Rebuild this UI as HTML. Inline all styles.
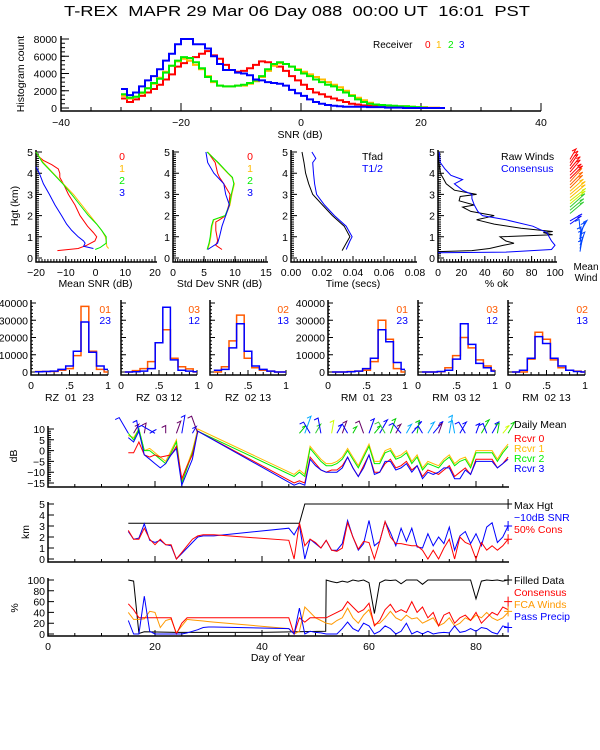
<!DOCTYPE html>
<html><head><meta charset="utf-8"><style>
html,body{margin:0;padding:0;background:#fff;}
svg{display:block;font-family:"Liberation Sans",sans-serif;}
</style></head><body>
<svg id="c" width="600" height="750" viewBox="0 0 600 750" xmlns="http://www.w3.org/2000/svg"></svg>
<script>
// ---------- DATA ----------
const snrBinStart = -30;
const histRcvr0 = [1100,700,1000,1400,1800,2200,2700,3300,3900,4800,5200,5500,5900,6300,6600,6100,5700,5000,4400,4200,4300,4600,5000,5400,5300,5000,4800,4300,3700,3200,2700,2200,1800,1600,1300,1100,900,700,500,400,300,250,200,200,200,200,150,100,100,50,0,0,0,0];
const histRcvr1 = [1400,1100,1300,1700,2300,2800,3500,4200,4900,5400,5700,5500,5000,4500,3700,3000,2600,2500,2500,2600,2600,2800,3100,3600,4300,4900,5200,5100,4800,4500,4200,3900,3600,3300,3000,2700,2400,2000,1500,1200,900,600,400,300,250,200,200,200,150,100,100,50,50,0];
const histRcvr2 = [1600,1200,1300,1800,2300,2900,3400,4100,4900,5500,5900,5800,5300,4600,3600,3100,2600,2500,2500,2600,2700,2900,3200,3700,4500,5100,5300,5100,4800,4400,4000,3700,3300,3000,2700,2500,2100,1800,1400,1000,700,500,400,350,300,250,200,200,150,100,50,0,0,0];
const histRcvr3 = [2200,1500,1800,2500,3200,3700,4500,5500,6300,7400,8000,8000,7400,7400,6900,6000,5100,4400,4400,4100,4000,3800,3300,3200,3000,2900,2800,2600,2100,1700,1400,1000,700,500,350,250,200,150,150,150,150,100,100,100,50,50,50,0,0,0,0,0,0,0];

const snrH0 = [0.35,0.45,0.6,0.8,1.0,1.2,1.5,2.0,2.5,3.0,3.5,3.8,4.0,4.2,4.4,4.6,4.8,5.0];
const snrR0 = [-12.8,-5.8,-3,-0.2,0.4,-0.7,-2.7,-5.2,-6.9,-9.1,-10.8,-12,-12,-12.5,-14.7,-17.5,-19.2,-20];
const snrH1 = [0.45,0.55,0.8,1.0,1.3,1.6,2.0,2.5,3.0,3.5,4.0,4.5,5.0];
const snrR1 = [4.4,3.8,3.6,3.3,2.1,0.4,-1.8,-4.6,-7.4,-10.8,-14.2,-17.5,-20];
const snrH2 = [0.4,0.5,0.7,1.0,1.3,1.6,2.0,2.5,3.0,3.5,4.0,4.5,5.0];
const snrR2 = [-0.1,1.6,3.6,3.6,2.1,0.4,-2.4,-5.2,-8,-11,-14.4,-17.8,-20];
const snrH3 = [0.45,0.55,0.7,0.8,1.0,1.3,1.6,2.0,2.5,3.0,3.5,4.0,4.3];
const snrR3 = [-0.7,-4,-3.5,-4,-5.8,-8,-9.7,-11.4,-13.6,-15.5,-17.5,-18.9,-20];

const sdH0 = [0.4,0.6,0.8,1.0,1.3,1.7,1.8,2.0,2.5,3.0,3.3,3.5,3.8,4.0,4.5,5.0];
const sdR0 = [7.9,6.9,7.2,7.1,6.9,6.9,7.5,8.5,9,9.2,8.6,8.2,7.5,7.2,6.8,5.6];
const sdH1 = [0.4,0.7,1.0,1.5,1.8,2.0,2.5,3.0,3.5,3.8,4.0,4.5,5.0];
const sdR1 = [5.6,5.9,6.1,6.3,6.6,8.5,9.2,9.5,9.9,9.5,8.8,7.2,5.6];
const sdR2 = [5.5,5.8,6.0,6.2,6.5,8.4,9.1,9.4,9.8,9.6,8.9,7.3,5.5];
const sdH3 = [0.4,0.7,1.0,1.5,2.0,2.5,3.0,3.5,4.0,4.5,5.0];
const sdR3 = [5.6,7.2,7.5,7.9,8.5,9.1,8.5,8.2,6.6,5.6,5.3];

const tH = [0.35,0.7,1.0,1.5,2.0,2.5,3.0,3.5,4.0,4.5,5.0];
const tFad = [0.033,0.0356,0.038,0.0343,0.0267,0.0203,0.014,0.0114,0.0094,0.0084,0.0071];
const tH2 = [0.4,0.8,1.0,1.5,2.0,2.5,3.0,3.5,4.0,4.5,4.7,5.0];
const tHalf = [0.0356,0.038,0.0394,0.0356,0.028,0.0216,0.0165,0.0152,0.0145,0.014,0.016,0.0135];

const okHraw = [0.3,0.35,0.45,0.6,0.7,0.8,1.0,1.1,1.2,1.25,1.4,1.6,1.8,1.9,2.0,2.1,2.2,2.4,2.5,2.7,2.9,3.0,3.2,3.5,3.8,4.0,4.4,5.0];
const okRaw = [0.7,29,44,56,65,58,53,98,90,98,71,48,33,41,48,38,28,21,31,18,19,33,14,7,4,2,1,0];
const okHcon = [0.25,0.28,0.4,0.6,0.8,1.0,1.2,1.5,1.8,2.0,2.2,2.5,2.8,3.0,3.2,3.5,3.7,3.9,4.2,4.5,5.0];
const okCon = [0,58,97,100,97,95,93,81,58,38,34,31,29,29,21,14,21,11,6,2,1];

const mwHgt = [0.3,0.45,0.6,0.75,0.9,1.05,1.2,1.35,1.6,1.75,2.1,2.25,2.4,2.55,2.7,2.85,3.0,3.15,3.3,3.45,3.6,3.75,3.9,4.05,4.2,4.35,4.5,4.65];
const mwDir = [80,75,70,80,85,70,60,95,35,30,40,40,42,40,38,40,40,42,45,45,48,45,45,50,50,55,55,60];
const mwSpd = [12,12,14,12,12,14,14,10,14,14,18,18,20,20,20,20,20,18,18,18,18,18,16,16,16,14,14,12];

const hBinCenters = [0.1,0.2,0.3,0.4,0.5,0.6,0.7,0.8,0.9,1.0];
const rz0123A = [300,300,300,1000,2000,9500,38000,12000,1500,0];
const rz0123B = [200,300,500,1500,3500,12000,29000,11500,3500,1500];
const rz0312A = [0,800,2000,6000,17000,24500,8000,3000,1800,0];
const rz0312B = [0,200,500,2000,17000,37500,7000,1000,500,200];
const rz0213A = [0,3000,18000,33000,8000,2500,1000,500,0,0];
const rz0213B = [1000,1500,14000,28000,12000,3500,1500,500,0,0];
const rm0123A = [0,0,300,500,1000,6000,30000,19000,2000,0];
const rm0123B = [0,0,200,500,2000,8000,24500,17500,5500,1500];
const rm0312A = [0,0,200,2500,9500,20000,14000,7000,3500,1000];
const rm0312B = [0,0,300,1000,7500,28000,16000,5000,2500,500];
const rm0213A = [0,0,7500,23000,19000,7000,2500,1000,500,0];
const rm0213B = [0,1000,8000,20500,16500,8000,3500,1000,300,0];

const dmDays = [15,16,17,18,19,20,21,22,23,24,25,26,27,28,46,47,48,49,50,51,52,53,54,55,56,57,58,59,60,61,62,63,64,65,66,67,68,69,70,71,72,73,74,75,76,77,78,79,80,81,82,83,84,85,86];
const dmR0 = [-1,-1,4,-2,-3,-2,-3,-2.5,-2,2,-13,-7,-2,9,-15,-14,-15,-3,-6,-9,-10,-9,-9,-7,-3,-8,-12,-7,-2,-10,-10,-6,-4,-8,-7,-5,-9,-7,-12,-9,-10,-11,-9,-7,-12,-10,-8,-11,-4,-4,-4,-4,-8,-6,-3];
const dmR1 = [7,6,10,0,1,-1,-3,-5,0,5,-14,-7,0,10,-11,-9,-11,2,-1,-4,-6,-6,-5,-3,1,-3,-7,-2,3,-5,-5,0,1,-3,-2,0,-5,-2,-8,-5,-6,-7,-4,-2,-6,-4,-3,-7,0,0,0,0,-4,0,3];
const dmR2 = [8,5,10,0,0,-2,-4,-6,-1,4,-15,-8,-1,9,-12,-10,-12,1,-2,-5,-7,-7,-6,-4,0,-4,-8,-3,2,-6,-6,-1,0,-4,-3,-1,-6,-3,-9,-6,-7,-8,-5,-3,-7,-5,-4,-8,-1,-1,-1,-1,-5,-1,2];
const dmR3 = [6,4,9,-2,-4,-6,-8,-6,-2,1,-16,-10,-4,9,-16,-15,-16,-4,-7,-9,-10,-10,-10,-8,-3,-8,-12,-8,-2,-11,-10,-5,-5,-9,-8,-6,-10,-7,-13,-10,-11,-10,-8,-8,-13,-13,-9,-11,-5,-5,-5,-5,-8,-6,-4];

const wDay = [15,16,17,18,19,20,22,24,25,27,28,47,48,49,50,51,53,54,55,56,57,59,60,61,62,63,64,65,66,67,68,69,70,71,72,73,75,76,77,78,80,81,82,83,84,85,86];
const wDir = [120,60,100,80,30,150,90,70,80,60,110,50,70,120,60,100,80,60,70,120,60,110,70,50,60,120,70,60,130,60,50,80,120,60,50,70,80,100,60,120,70,60,110,60,80,50,60];
const wLen = [14,8,10,8,6,12,6,10,14,6,14,8,14,10,8,12,10,8,10,8,6,10,12,8,12,10,12,8,10,8,12,10,6,10,12,8,14,10,10,10,8,12,8,10,8,8,10];
const wCol = ['#0000ff','#660066','#0000ff','#660066','#0000ff','#0000ff','#660066','#660066','#0000ff','#0000ff','#660066','#00cc00','#00aaff','#0000ff','#33cc33','#0000ff','#ccff00','#0000ff','#660066','#0000ff','#00cc00','#660066','#0000ff','#00cc00','#0000ff','#33cc33','#00cc00','#660066','#0000ff','#00aaff','#0000ff','#00cc00','#0000ff','#00aaff','#0000ff','#660066','#00aaff','#00aaff','#0000ff','#0000ff','#0000ff','#00cc00','#0000ff','#0000ff','#00cc00','#ccff00','#00cc00'];

const kmDays = [15,16,17,18,19,20,21,22,23,24,25,26,27,28,29,30,31,45,46,47,48,49,50,51,52,53,54,55,56,57,58,59,60,61,62,63,64,65,66,67,68,69,70,71,72,73,74,75,76,77,78,79,80,81,82,83,84,85,86];
const kmCons = [2.6,1.8,1.8,2.8,1.8,1.3,1.8,1.3,1.3,0,0.6,1.2,1.8,2.1,2.2,2.2,2.2,1.7,0,3.3,1.2,1.8,1.5,1,1.7,0.8,0.7,1,3.3,2,0.9,1.6,1.5,0,1.6,3.4,2,1.4,1.4,1.3,1.2,1.2,0.8,0,0.8,0,1,1.8,0,2,1.5,1.3,0,1.5,0.8,1.2,0.8,1.2,1.8];
const kmSnr = [2.5,1.8,1.9,3.2,1.7,1.5,1.7,1.3,1.2,0,0.5,1,1.5,2,2.1,2.1,2.1,2.8,2.2,3.1,0,1.8,1.4,1,1.7,0.8,0.8,1.4,3.5,2,0.8,1.4,3.5,1.2,1.6,3.4,2.4,1.2,2.8,1.6,2.8,1.1,1,2.3,1.2,2,1.4,2.9,0.8,2.1,2.5,1.4,2.3,1.2,2.9,3.3,1.5,2,3];
const maxDays = [15,47,48,86];
const maxHgt = [3.25,3.25,5,5];

const fdDays = [15,16,17,18,24,30,40,51.9,52,53,54,55,56,57,58,59,60,61,62,63,64,65,66,67,68,69,70,71,72,73,74,75,76,77,78,79,80,81,82,83,84,85,86];
const fdVals = [100,98,1,4,3,3,3,5,100,97,95,98,96,100,98,100,95,38,95,100,99,100,93,100,100,100,92,100,100,100,100,100,100,100,100,100,65,98,100,99,100,98,100];
const pcDays = [15,16,17,18,19,20,21,22,23,24,25,26,27,28,29,30,31,45,46,47,48,49,50,51,52,53,54,55,56,57,58,59,60,61,62,63,64,65,66,67,68,69,70,71,72,73,74,75,76,77,78,79,80,81,82,83,84,85,86];
const pcCons = [56,45,30,30,30,30,30,30,30,0,20,30,30,30,30,30,30,30,0,30,22,30,30,30,30,35,40,45,60,50,40,45,57,15,25,45,55,40,45,40,60,40,50,30,40,15,35,40,20,30,35,25,40,20,30,40,35,50,45];
const pcFca = [40,27,27,28,42,40,12,25,28,2,15,27,26,25,24,23,22,10,0,5,50,40,30,25,20,18,25,30,48,30,20,35,45,18,20,30,42,30,25,35,28,30,20,25,30,15,20,30,15,20,30,25,35,30,40,30,25,30,40];
const pcPrecip = [25,0,0,70,5,0,0,0,0,0,0,2,5,8,12,13,13,10,0,48,0,5,3,2,0,0,0,10,22,10,5,20,15,0,5,15,10,0,5,20,0,5,0,5,0,2,3,2,15,3,5,10,5,12,10,3,0,15,12];

// ---------- HELPERS ----------
const NS = 'http://www.w3.org/2000/svg';
const svg = document.getElementById('c');
function nm(el, name, inter) {
  
  
  return el;
}
function mk(tag, attrs, parent) {
  const e = document.createElementNS(NS, tag);
  for (const k in attrs) e.setAttribute(k, attrs[k]);
  (parent || svg).appendChild(e);
  return e;
}
function grp(name) {
  const g = mk('g', {});
  nm(g, name);
  return g;
}
function scale(d0, d1, r0, r1) { return v => r0 + (v - d0) * (r1 - r0) / (d1 - d0); }
function txt(p, x, y, s, name, o) {
  o = o || {};
  const t = mk('text', {x: x, y: y, 'font-size': o.size || 10.5, fill: o.fill || '#000', 'text-anchor': o.anchor || 'start'}, p);
  if (o.rot) t.setAttribute('transform', 'rotate(-90 ' + x + ' ' + y + ')');
  t.textContent = s;
  nm(t, name);
  return t;
}
function poly(p, xs, ys, sx, sy, color, name, w) {
  let d = '';
  for (let i = 0; i < xs.length; i++) d += (i ? 'L' : 'M') + sx(xs[i]).toFixed(1) + ',' + sy(ys[i]).toFixed(1);
  const e = mk('path', {d: d, fill: 'none', stroke: color, 'stroke-width': w || 1}, p);
  nm(e, name);
  return e;
}
function stepHist(p, starts, width, vals, sx, sy, color, name, w) {
  let d = '';
  for (let i = 0; i < vals.length; i++) {
    const x0 = sx(starts(i)), x1 = sx(starts(i) + width), y = sy(vals[i]);
    d += (i ? 'L' : 'M') + x0.toFixed(1) + ',' + y.toFixed(1) + 'L' + x1.toFixed(1) + ',' + y.toFixed(1);
  }
  const e = mk('path', {d: d, fill: 'none', stroke: color, 'stroke-width': w || 2}, p);
  nm(e, name);
  return e;
}
function axes(p, x0, x1, yTop, yAx, name) {
  const e = mk('path', {d: 'M' + x0 + ',' + yTop + 'L' + x0 + ',' + yAx + 'L' + x1 + ',' + yAx, fill: 'none', stroke: '#000', 'stroke-width': 1.5}, p);
  nm(e, name);
}
function ticksX(p, sx, yAx, vals, len, name) {
  let d = '';
  vals.forEach(v => { const x = sx(v).toFixed(1); d += 'M' + x + ',' + yAx + 'L' + x + ',' + (yAx - len); });
  const e = mk('path', {d: d, stroke: '#000', 'stroke-width': 1}, p);
  nm(e, name);
}
function ticksY(p, sy, xAx, vals, len, name) {
  let d = '';
  vals.forEach(v => { const y = sy(v).toFixed(1); d += 'M' + xAx + ',' + y + 'L' + (xAx + len) + ',' + y; });
  const e = mk('path', {d: d, stroke: '#000', 'stroke-width': 1}, p);
  nm(e, name);
}
function range(a, b, s) { const r = []; for (let v = a; v <= b + 1e-9; v += s) r.push(+v.toFixed(6)); return r; }

// ---------- TITLE ----------
const title = mk('text', {x: 64, y: 16, 'font-size': 15, textLength: 466, lengthAdjust: 'spacingAndGlyphs'});
title.textContent = 'T-REX\u00a0\u00a0MAPR 29 Mar 06 Day 088\u00a0\u00a000:00 UT\u00a0\u00a016:01\u00a0\u00a0PST';
nm(title, 'chart-title');

// ---------- TOP HISTOGRAM ----------
(function () {
  const g = grp('snr-histogram');
  const sx = scale(-40, 40, 61, 541), sy = scale(0, 8000, 108, 39);
  axes(g, 61, 541, 36, 111, 'histogram-axes');
  ticksY(g, sy, 61, range(0, 8000, 2000), 8, 'y-major-ticks');
  ticksY(g, sy, 61, range(0, 8000, 500), 4, 'y-minor-ticks');
  ticksX(g, sx, 111, range(-40, 40, 20), 8, 'x-major-ticks');
  ticksX(g, sx, 111, range(-40, 40, 5), 4, 'x-minor-ticks');
  range(0, 8000, 2000).forEach(v => txt(g, 57, sy(v) + 4, String(v), 'y-tick-label', {anchor: 'end'}));
  range(-40, 40, 20).forEach(v => txt(g, sx(v), 126, String(v).replace('-', '\u2212'), 'x-tick-label', {anchor: 'middle'}));
  txt(g, 300, 138, 'SNR (dB)', 'x-axis-title', {anchor: 'middle'});
  txt(g, 24, 74, 'Histogram count', 'y-axis-title', {anchor: 'middle', rot: true});
  const st = i => snrBinStart + i;
  stepHist(g, st, 1, histRcvr0, sx, sy, '#ff0000', 'hist-rcvr0');
  stepHist(g, st, 1, histRcvr1, sx, sy, '#ffbb00', 'hist-rcvr1');
  stepHist(g, st, 1, histRcvr2, sx, sy, '#00ee00', 'hist-rcvr2');
  stepHist(g, st, 1, histRcvr3, sx, sy, '#0000ff', 'hist-rcvr3');
  txt(g, 373, 48, 'Receiver', 'legend-title', {size: 10});
  txt(g, 425, 48, '0', 'legend-rcvr0', {fill: '#ff0000', size: 10});
  txt(g, 436, 48, '1', 'legend-rcvr1', {fill: '#ffbb00', size: 10});
  txt(g, 448, 48, '2', 'legend-rcvr2', {fill: '#00ee00', size: 10});
  txt(g, 459, 48, '3', 'legend-rcvr3', {fill: '#0000ff', size: 10});
})();

// ---------- PROFILE PANELS ----------
const pY = scale(0, 5, 258, 152);
function profPanel(name, x0, x1, d0, d1, xt, xlabels, title) {
  const g = grp(name);
  const sx = scale(d0, d1, x0, x1);
  axes(g, x0, x1 + 2, 150, 262, name + '-axes');
  ticksY(g, pY, x0, range(0, 5, 1), 6, 'y-major-ticks');
  ticksY(g, pY, x0, range(0, 5, 0.1), 3, 'y-minor-ticks');
  ticksX(g, sx, 262, xt, 6, 'x-major-ticks');
  ticksX(g, sx, 262, range(d0, d1, (d1 - d0) / 40), 3, 'x-minor-ticks');
  range(0, 5, 1).forEach(v => txt(g, x0 - 3, pY(v) + 4, String(v), 'y-tick-label', {anchor: 'end'}));
  xt.forEach((v, i) => txt(g, sx(v), 276, xlabels[i], 'x-tick-label', {anchor: 'middle'}));
  txt(g, (x0 + x1) / 2, 287, title, 'x-axis-title', {anchor: 'middle'});
  return {g: g, sx: sx};
}
(function () {
  const p = profPanel('mean-snr-panel', 36, 155, -20, 20, [-20, -10, 0, 10, 20], ['\u221220', '\u221210', '0', '10', '20'], 'Mean SNR (dB)');
  txt(p.g, 18, 206, 'Hgt (km)', 'y-axis-title', {anchor: 'middle', rot: true});
  poly(p.g, snrR0, snrH0, p.sx, pY, '#ff0000', 'mean-snr-rcvr0');
  poly(p.g, snrR1, snrH1, p.sx, pY, '#ffbb00', 'mean-snr-rcvr1');
  poly(p.g, snrR2, snrH2, p.sx, pY, '#00ee00', 'mean-snr-rcvr2');
  poly(p.g, snrR3, snrH3, p.sx, pY, '#0000ff', 'mean-snr-rcvr3');
  ['0', '1', '2', '3'].forEach((s, i) => txt(p.g, 122, 160 + i * 12, s, 'legend-rcvr' + s, {fill: ['#ff0000', '#ffbb00', '#00ee00', '#0000ff'][i], anchor: 'middle'}));

  const q = profPanel('std-snr-panel', 173, 266, 0, 15, [0, 5, 10, 15], ['0', '5', '10', '15'], 'Std Dev SNR (dB)');
  poly(q.g, sdR0, sdH0, q.sx, pY, '#ff0000', 'std-snr-rcvr0');
  poly(q.g, sdR1, sdH1, q.sx, pY, '#ffbb00', 'std-snr-rcvr1');
  poly(q.g, sdR2, sdH1, q.sx, pY, '#00ee00', 'std-snr-rcvr2');
  poly(q.g, sdR3, sdH3, q.sx, pY, '#0000ff', 'std-snr-rcvr3');
  ['0', '1', '2', '3'].forEach((s, i) => txt(q.g, 250, 160 + i * 12, s, 'legend-rcvr' + s, {fill: ['#ff0000', '#ffbb00', '#00ee00', '#0000ff'][i], anchor: 'middle'}));

  const r = profPanel('time-panel', 291, 415, 0, 0.08, [0, 0.02, 0.04, 0.06, 0.08], ['0.00', '0.02', '0.04', '0.06', '0.08'], 'Time (secs)');
  poly(r.g, tFad, tH, r.sx, pY, '#000000', 'tfad-line');
  poly(r.g, tHalf, tH2, r.sx, pY, '#0000ff', 't-half-line');
  txt(r.g, 362, 160, 'Tfad', 'legend-tfad');
  txt(r.g, 362, 172, 'T1/2', 'legend-thalf', {fill: '#0000ff'});

  const s = profPanel('percent-ok-panel', 438, 555, 0, 100, [0, 20, 40, 60, 80, 100], ['0', '20', '40', '60', '80', '100'], '% ok');
  poly(s.g, okRaw, okHraw, s.sx, pY, '#000000', 'raw-winds-line');
  poly(s.g, okCon, okHcon, s.sx, pY, '#0000ff', 'consensus-line');
  txt(s.g, 501, 160, 'Raw Winds', 'legend-raw-winds');
  txt(s.g, 501, 172, 'Consensus', 'legend-consensus', {fill: '#0000ff'});

  // mean wind barbs
  const g = grp('mean-wind-panel');
  mwHgt.forEach((h, i) => {
    const col = h > 3.7 ? '#ff0000' : h > 3.2 ? '#ff6600' : h > 2.8 ? '#ffbb00' : h > 2.4 ? '#ccee00' : h > 2.0 ? '#33cc33' : h > 1.4 ? '#0000ff' : '#0044ff';
    const y = pY(h), x = h > 1.4 ? 570 : 580;
    const a = mwDir[i] * Math.PI / 180, L = mwSpd[i];
    const x2 = x + L * Math.cos(a), y2 = y - L * Math.sin(a);
    const e = mk('path', {d: 'M' + x.toFixed(1) + ',' + y.toFixed(1) + 'L' + x2.toFixed(1) + ',' + y2.toFixed(1) + 'L' + (x2 - 4).toFixed(1) + ',' + (y2 + 2).toFixed(1), fill: 'none', stroke: col, 'stroke-width': 1}, g);
    nm(e, 'wind-barb');
  });
  txt(g, 586, 270, 'Mean', 'mean-wind-label', {anchor: 'middle', size: 10});
  txt(g, 586, 281, 'Wind', 'mean-wind-label', {anchor: 'middle', size: 10});
})();

// ---------- CORRELATION HISTOGRAMS ----------
const cY = scale(0, 40000, 372, 303);
function corrPanel(name, x0, x1, A, B, la, lb, title, showY) {
  const g = grp(name);
  const sx = scale(0, 1, x0, x1);
  axes(g, x0, x1, 300, 375, name + '-axes');
  ticksY(g, cY, x0, range(0, 40000, 10000), 5, 'y-major-ticks');
  ticksY(g, cY, x0, range(0, 40000, 2000), 2, 'y-minor-ticks');
  ticksX(g, sx, 375, [0, 0.5, 1], 5, 'x-major-ticks');
  ticksX(g, sx, 375, range(0, 1, 0.1), 3, 'x-minor-ticks');
  if (showY) range(0, 40000, 10000).forEach(v => txt(g, x0 - 3, cY(v) + 4, String(v), 'y-tick-label', {anchor: 'end'}));
  [[0, '0'], [0.5, '.5'], [1, '1']].forEach(t => txt(g, sx(t[0]), 389, t[1], 'x-tick-label', {anchor: 'middle'}));
  txt(g, (x0 + x1) / 2, 401, title, 'x-axis-title', {anchor: 'middle'});
  const st = i => hBinCenters[i] - 0.05;
  const clipX = v => sx(Math.min(v, 1));
  stepHist(g, st, 0.1, A, clipX, cY, '#ff5a00', 'hist-pair-a', 1.5);
  stepHist(g, st, 0.1, B, clipX, cY, '#0000ff', 'hist-pair-b', 1.5);
  txt(g, x1 + 3, 313, la, 'legend-pair-a', {anchor: 'end', fill: '#ff5a00'});
  txt(g, x1 + 3, 324, lb, 'legend-pair-b', {anchor: 'end', fill: '#0000ff'});
}
corrPanel('rz-01-23-panel', 31, 108, rz0123A, rz0123B, '01', '23', 'RZ\u00a0\u00a001\u00a0\u00a023', true);
corrPanel('rz-03-12-panel', 121, 197, rz0312A, rz0312B, '03', '12', 'RZ\u00a0\u00a003\u00a012', false);
corrPanel('rz-02-13-panel', 210, 286, rz0213A, rz0213B, '02', '13', 'RZ\u00a0\u00a002\u00a013', false);
corrPanel('rm-01-23-panel', 328, 405, rm0123A, rm0123B, '01', '23', 'RM\u00a0\u00a001\u00a0\u00a023', true);
corrPanel('rm-03-12-panel', 418, 495, rm0312A, rm0312B, '03', '12', 'RM\u00a0\u00a003\u00a012', false);
corrPanel('rm-02-13-panel', 508, 585, rm0213A, rm0213B, '02', '13', 'RM\u00a0\u00a002\u00a013', false);

// ---------- TIME SERIES ----------
const dX = scale(0, 80, 48, 476);
function tsPanel(name, sy, yTop, yAx, yt, ylabels, yminor) {
  const g = grp(name);
  axes(g, 48, 509, yTop, yAx, name + '-axes');
  ticksY(g, sy, 48, yt, 6, 'y-major-ticks');
  if (yminor) ticksY(g, sy, 48, yminor, 3, 'y-minor-ticks');
  ticksX(g, dX, yAx, range(0, 80, 20), 6, 'x-major-ticks');
  ticksX(g, dX, yAx, range(0, 85, 5), 3, 'x-minor-ticks');
  yt.forEach((v, i) => txt(g, 45, sy(v) + 4, ylabels[i], 'y-tick-label', {anchor: 'end'}));
  return g;
}
(function () {
  const sy = scale(-15, 10, 483, 429);
  const g = tsPanel('daily-mean-panel', sy, 426, 487, [10, 5, 0, -5, -10, -15], ['10', '5', '0', '\u22125', '\u221210', '\u221215'], range(-15, 10, 1));
  txt(g, 17, 456, 'dB', 'y-axis-title', {anchor: 'middle', rot: true});
  const cl = mk('clipPath', {id: 'dmclip'}, g);
  mk('rect', {x: 48, y: 400, width: 470, height: 87}, cl);
  const lines = mk('g', {'clip-path': 'url(#dmclip)'}, g);
  nm(lines, 'daily-mean-lines');
  poly(lines, dmDays, dmR1, dX, sy, '#ffbb00', 'daily-mean-rcvr1');
  poly(lines, dmDays, dmR2, dX, sy, '#00ee00', 'daily-mean-rcvr2');
  poly(lines, dmDays, dmR0, dX, sy, '#ff0000', 'daily-mean-rcvr0');
  poly(lines, dmDays, dmR3, dX, sy, '#0000ff', 'daily-mean-rcvr3');
  wDay.forEach((d, i) => {
    const x = dX(d), y = sy(8), a = wDir[i] * Math.PI / 180, L = wLen[i] * 1.3;
    const e = mk('path', {d: 'M' + x.toFixed(1) + ',' + y.toFixed(1) + 'L' + (x + L * Math.cos(a)).toFixed(1) + ',' + (y - L * Math.sin(a)).toFixed(1) + 'l' + (-4) + ',2', fill: 'none', stroke: wCol[i], 'stroke-width': 1}, g);
    nm(e, 'wind-stick');
  });
  txt(g, 514, 428, 'Daily Mean', 'legend-daily-mean');
  txt(g, 514, 442, 'Rcvr 0', 'legend-rcvr0', {fill: '#ff0000'});
  txt(g, 514, 452, 'Rcvr 1', 'legend-rcvr1', {fill: '#ffbb00'});
  txt(g, 514, 462, 'Rcvr 2', 'legend-rcvr2', {fill: '#00ee00'});
  txt(g, 514, 472, 'Rcvr 3', 'legend-rcvr3', {fill: '#0000ff'});
})();
(function () {
  const sy = scale(0, 5, 559, 504);
  const g = tsPanel('height-panel', sy, 502, 562, [5, 4, 3, 2, 1, 0], ['5', '4', '3', '2', '1', '0'], null);
  txt(g, 29, 532, 'km', 'y-axis-title', {anchor: 'middle', rot: true});
  poly(g, maxDays, maxHgt, dX, sy, '#000000', 'max-hgt-line');
  poly(g, kmDays, kmSnr, dX, sy, '#0000ff', 'snr-10db-line');
  poly(g, kmDays, kmCons, dX, sy, '#ff0000', 'cons-50-line');
  [[maxHgt[maxHgt.length - 1], '#000'], [kmSnr[kmSnr.length - 1], '#0000ff'], [kmCons[kmCons.length - 1], '#ff0000']].forEach(m => {
    const x = dX(86), y = sy(m[0]);
    const e = mk('path', {d: 'M' + (x - 4) + ',' + y + 'h8M' + x + ',' + (y - 5) + 'v10', stroke: m[1], 'stroke-width': 1}, g);
    nm(e, 'end-marker');
  });
  txt(g, 514, 509, 'Max Hgt', 'legend-max-hgt');
  txt(g, 514, 521, '\u221210dB SNR', 'legend-10db-snr', {fill: '#0000ff'});
  txt(g, 514, 533, '50% Cons', 'legend-50-cons', {fill: '#ff0000'});
})();
(function () {
  const sy = scale(0, 100, 634, 580);
  const g = tsPanel('percent-panel', sy, 578, 636, [100, 80, 60, 40, 20, 0], ['100', '80', '60', '40', '20', '0'], null);
  txt(g, 18, 608, '%', 'y-axis-title', {anchor: 'middle', rot: true});
  poly(g, fdDays, fdVals, dX, sy, '#000000', 'filled-data-line');
  poly(g, pcDays, pcFca, dX, sy, '#ff9900', 'fca-winds-line');
  poly(g, pcDays, pcCons, dX, sy, '#ff0000', 'consensus-line');
  poly(g, pcDays, pcPrecip, dX, sy, '#0000ff', 'pass-precip-line');
  [[100, '#000'], [60, '#ff0000'], [42, '#ff9900'], [12, '#0000ff']].forEach(m => {
    const x = dX(86), y = sy(m[0]);
    const e = mk('path', {d: 'M' + (x - 4) + ',' + y + 'h8M' + x + ',' + (y - 5) + 'v10', stroke: m[1], 'stroke-width': 1}, g);
    nm(e, 'end-marker');
  });
  txt(g, 514, 584, 'Filled Data', 'legend-filled-data');
  txt(g, 514, 596, 'Consensus', 'legend-consensus', {fill: '#ff0000'});
  txt(g, 514, 608, 'FCA Winds', 'legend-fca-winds', {fill: '#ff9900'});
  txt(g, 514, 620, 'Pass Precip', 'legend-pass-precip', {fill: '#0000ff'});
  range(0, 80, 20).forEach(v => txt(g, dX(v), 650, String(v), 'x-tick-label', {anchor: 'middle'}));
  txt(g, 278, 661, 'Day of Year', 'x-axis-title', {anchor: 'middle'});
})();
</script>
</body></html>
